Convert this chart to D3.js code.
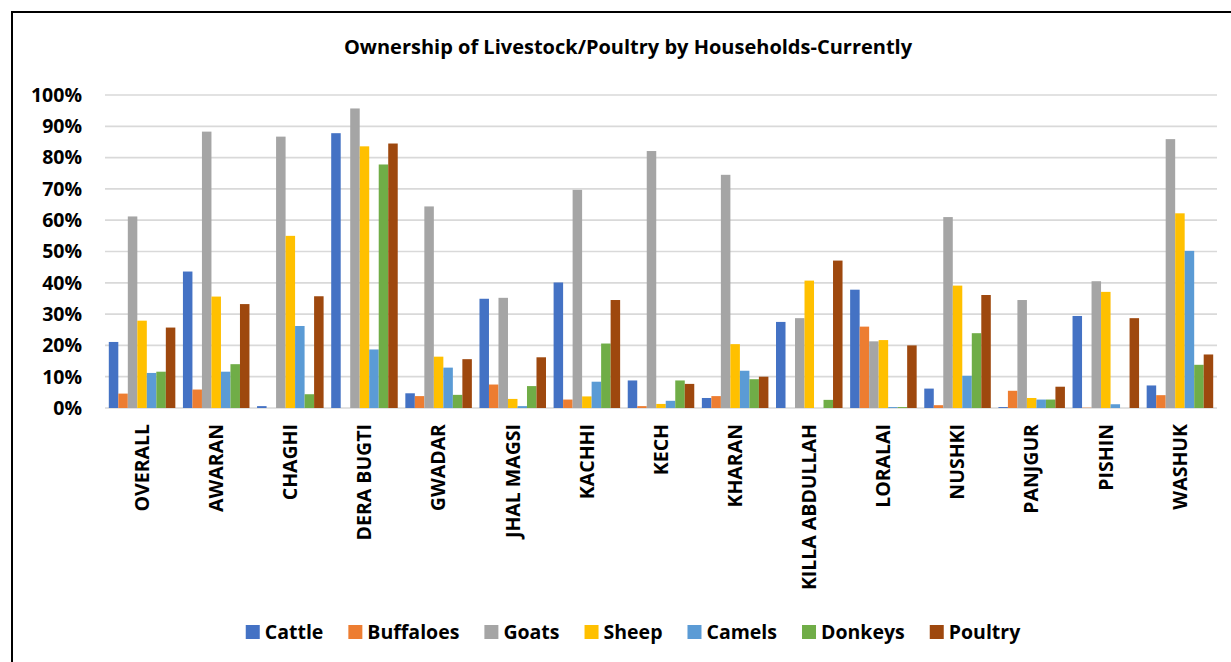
<!DOCTYPE html>
<html>
<head>
<meta charset="utf-8">
<script src="https://cdn.jsdelivr.net/npm/d3@7"></script>
<style>
  body { margin: 0; background: #fff; }
  text { font-family: "Open Sans", sans-serif; font-weight: bold; fill: #000; }
</style>
</head>
<body>
<div id="chart"></div>
<script>
// Data (percent of households)
const districts = ["OVERALL", "AWARAN", "CHAGHI", "DERA BUGTI", "GWADAR", "JHAL MAGSI", "KACHHI",
  "KECH", "KHARAN", "KILLA ABDULLAH", "LORALAI", "NUSHKI", "PANJGUR", "PISHIN", "WASHUK"];
const cattle    = [21.1, 43.6, 0.6, 87.8, 4.7, 34.9, 40.1, 8.8, 3.2, 27.5, 37.8, 6.2, 0.3, 29.4, 7.2];
const buffaloes = [4.6, 5.9, 0, 0, 3.8, 7.5, 2.7, 0.6, 3.8, 0, 26.0, 0.9, 5.5, 0.1, 4.1];
const goats     = [61.2, 88.3, 86.7, 95.7, 64.4, 35.2, 69.7, 82.1, 74.5, 28.7, 21.3, 61.0, 34.5, 40.5, 85.9];
const sheep     = [27.9, 35.6, 55.0, 83.6, 16.4, 2.9, 3.7, 1.3, 20.4, 40.7, 21.7, 39.1, 3.2, 37.1, 62.2];
const camels    = [11.2, 11.6, 26.2, 18.7, 12.9, 0.6, 8.4, 2.3, 11.9, 0, 0.3, 10.3, 2.7, 1.2, 50.2];
const donkeys   = [11.6, 14.0, 4.4, 77.8, 4.2, 7.0, 20.6, 8.8, 9.2, 2.6, 0.3, 23.9, 2.7, 0, 13.8];
const poultry   = [25.7, 33.2, 35.7, 84.5, 15.6, 16.2, 34.5, 7.7, 10.0, 47.1, 20.0, 36.1, 6.8, 28.7, 17.1];
const seriesNames = ["Cattle", "Buffaloes", "Goats", "Sheep", "Camels", "Donkeys", "Poultry"];
const yTicks = [0, 10, 20, 30, 40, 50, 60, 70, 80, 90, 100];

const seriesValues = [cattle, buffaloes, goats, sheep, camels, donkeys, poultry];
const colors = ["#4472C4", "#ED7D31", "#A5A5A5", "#FFC000", "#5B9BD5", "#70AD47", "#9E480E"];

const width = 1231, height = 662;
const plot = { left: 105, right: 1217, top: 95, bottom: 408 };

const svg = d3.select("#chart").append("svg")
  .attr("width", width)
  .attr("height", height);

// Outer frame
svg.append("rect")
  .attr("x", 12).attr("y", 12)
  .attr("width", 1250).attr("height", 700)
  .attr("fill", "none").attr("stroke", "#000").attr("stroke-width", 2);

// Title
svg.append("text")
  .attr("x", 628).attr("y", 54)
  .attr("text-anchor", "middle")
  .attr("font-size", "20px")
  .text("Ownership of Livestock/Poultry by Households-Currently");

// Scales
const x0 = d3.scaleBand().domain(districts).range([plot.left, plot.right]).padding(0);
const x1 = d3.scaleBand().domain(seriesNames).range([0, x0.bandwidth()])
  .paddingInner(0).paddingOuter(0.4);
const y = d3.scaleLinear().domain([0, 100]).range([plot.bottom, plot.top]);
const color = d3.scaleOrdinal().domain(seriesNames).range(colors);

// Gridlines
svg.append("g")
  .selectAll("line")
  .data(yTicks)
  .join("line")
  .attr("x1", plot.left).attr("x2", plot.right)
  .attr("y1", (d) => y(d)).attr("y2", (d) => y(d))
  .attr("stroke", "#d9d9d9").attr("stroke-width", 1.7);

// Y axis labels
svg.append("g")
  .selectAll("text")
  .data(yTicks)
  .join("text")
  .attr("x", 82)
  .attr("y", (d) => y(d))
  .attr("dy", "0.35em")
  .attr("text-anchor", "end")
  .attr("font-size", "19.5px")
  .text((d) => d + "%");

// Bars
const rows = districts.map((name, i) => ({
  name,
  values: seriesNames.map((s, j) => ({ key: s, value: seriesValues[j][i] })),
}));

svg.append("g")
  .selectAll("g")
  .data(rows)
  .join("g")
  .attr("transform", (d) => `translate(${x0(d.name)},0)`)
  .selectAll("rect")
  .data((d) => d.values)
  .join("rect")
  .attr("x", (d) => x1(d.key))
  .attr("y", (d) => y(d.value))
  .attr("width", x1.bandwidth())
  .attr("height", (d) => y(0) - y(d.value))
  .attr("fill", (d) => color(d.key));

// X axis labels (rotated)
svg.append("g")
  .selectAll("text")
  .data(districts)
  .join("text")
  .attr("transform", (d) => `translate(${x0(d) + x0.bandwidth() / 2},424) rotate(-90)`)
  .attr("dy", "0.35em")
  .attr("text-anchor", "end")
  .attr("font-size", "19.5px")
  .text((d) => d);

// Legend
const legend = svg.append("g");
const items = legend.selectAll("g")
  .data(seriesNames)
  .join("g");
items.append("rect")
  .attr("width", 14).attr("height", 14)
  .attr("y", 625)
  .attr("fill", (d) => color(d));
items.append("text")
  .attr("x", 19).attr("y", 639)
  .attr("font-size", "19.5px")
  .text((d) => d);

let offset = 0;
items.each(function () {
  const w = d3.select(this).select("text").node().getComputedTextLength();
  d3.select(this).attr("transform", `translate(${offset},0)`);
  offset += 19 + w + 25;
});
const legendWidth = offset - 25;
legend.attr("transform", `translate(${633 - legendWidth / 2},0)`);
</script>
</body>
</html>
